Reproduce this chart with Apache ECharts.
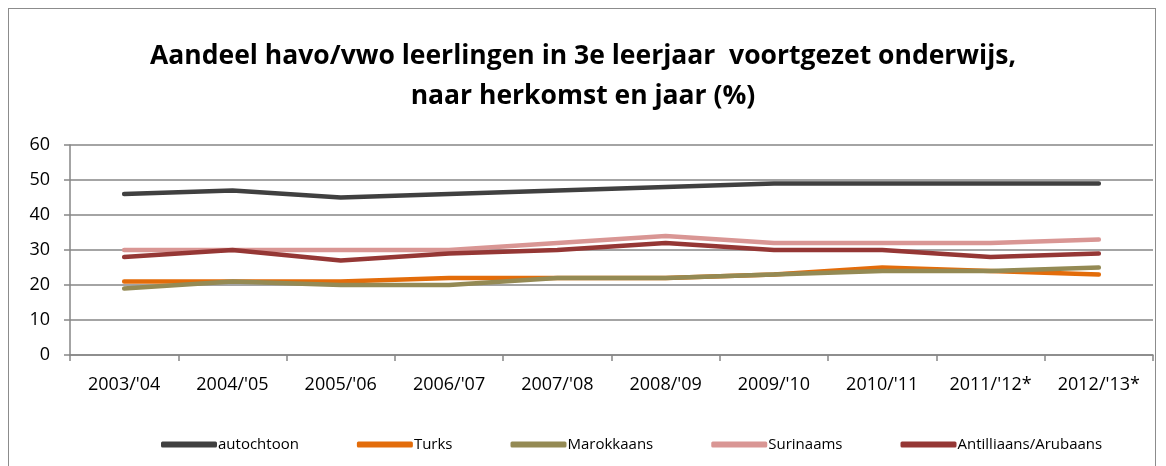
<!DOCTYPE html>
<html>
<head>
<meta charset="utf-8">
<script src="https://cdn.jsdelivr.net/npm/echarts@6/dist/echarts.min.js"></script>
<style>
  html, body { margin: 0; padding: 0; background: #fff; }
  #frame { position: absolute; left: 8px; top: 8px; width: 1148px; height: 470px; border: 1px solid #8c8c8c; box-sizing: border-box; }
  #chart { width: 1166px; height: 466px; position: absolute; left: 0; top: 0; }
</style>
</head>
<body>
<div id="frame"></div>
<div id="chart"></div>
<script>
/* ---------- data ---------- */
const years = ["2003/'04", "2004/'05", "2005/'06", "2006/'07", "2007/'08", "2008/'09", "2009/'10", "2010/'11", "2011/'12*", "2012/'13*"];
const autochtoon = [46, 47, 45, 46, 47, 48, 49, 49, 49, 49];
const turks = [21, 21, 21, 22, 22, 22, 23, 25, 24, 23];
const marokkaans = [19, 21, 20, 20, 22, 22, 23, 24, 24, 25];
const surinaams = [30, 30, 30, 30, 32, 34, 32, 32, 32, 33];
const antilliaans = [28, 30, 27, 29, 30, 32, 30, 30, 28, 29];

const font = 'Open Sans, sans-serif';
const axisGray = '#868686';

const mkLine = (name, data, color) => ({
    name, type: 'line', data,
    symbol: 'none',
    lineStyle: { width: 4.5, color, cap: 'round', join: 'round' },
    itemStyle: { color },
    emphasis: { disabled: true }
});

const chart = echarts.init(document.getElementById('chart'));
chart.setOption({
    animation: false,
    textStyle: { fontFamily: font },
    title: {
        text: 'Aandeel havo/vwo leerlingen in 3e leerjaar  voortgezet onderwijs,\nnaar herkomst en jaar (%)',
        left: 'center', top: 31,
        textStyle: { fontSize: 26.5, fontWeight: 'bold', color: '#000', lineHeight: 40, fontFamily: font }
    },
    legend: {
        bottom: 9, left: 156,
        itemWidth: 56, itemHeight: 6, itemGap: 58,
        icon: 'roundRect',
        textStyle: { fontSize: 15, color: '#000', fontFamily: font, padding: [0, 0, 0, -4] },
        data: ['autochtoon', 'Turks', 'Marokkaans', 'Surinaams', 'Antilliaans/Arubaans']
    },
    grid: { left: 70, right: 13, top: 145, bottom: 111 },
    xAxis: {
        type: 'category', data: years, boundaryGap: true,
        axisLine: { lineStyle: { color: axisGray, width: 1.5 } },
        axisTick: { show: true, length: 6, alignWithLabel: false, lineStyle: { color: axisGray, width: 1.5 } },
        axisLabel: { color: '#000', fontSize: 18, margin: 21, interval: 0 }
    },
    yAxis: {
        type: 'value', min: 0, max: 60, interval: 10,
        axisLine: { show: true, lineStyle: { color: axisGray, width: 1.5 } },
        axisTick: { show: true, length: 6, lineStyle: { color: axisGray, width: 1.5 } },
        axisLabel: { color: '#000', fontSize: 18, margin: 20 },
        splitLine: { lineStyle: { color: axisGray, width: 1.5 } }
    },
    series: [
        mkLine('autochtoon', autochtoon, '#404040'),
        mkLine('Turks', turks, '#e36c0a'),
        mkLine('Marokkaans', marokkaans, '#948a54'),
        mkLine('Surinaams', surinaams, '#d99694'),
        mkLine('Antilliaans/Arubaans', antilliaans, '#953735')
    ]
});
</script>
</body>
</html>
